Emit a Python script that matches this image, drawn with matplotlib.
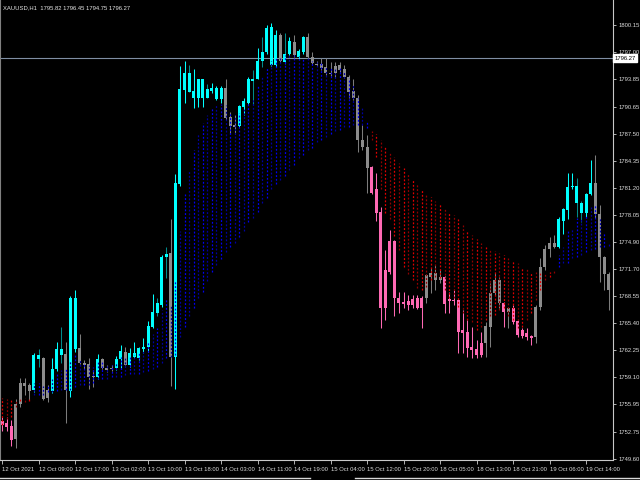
import matplotlib
matplotlib.use("Agg")
import matplotlib.pyplot as plt
from matplotlib.lines import Line2D
import numpy as np

plt.rcParams['font.family'] = ['Liberation Sans', 'DejaVu Sans']
FS = 4.2

header = "XAUUSD,H1  1795.82 1796.45 1794.75 1796.27"
last_price = 1796.27

opens = [1754.0, 1753.8, 1753.4, 1751.9, 1756.0, 1758.1, 1757.5, 1757.6, 1761.7, 1761.4,
         1757.6, 1757.5, 1760.1, 1762.4, 1761.8, 1757.5, 1762.4, 1762.5, 1760.8, 1760.7,
         1759.3, 1759.2, 1761.3, 1760.2, 1760.2, 1760.2, 1761.3, 1762.1, 1760.6, 1761.5,
         1761.4, 1762.4, 1762.6, 1765.0, 1767.8, 1767.5, 1773.5, 1773.6, 1761.5, 1781.6,
         1792.6, 1794.6, 1791.6, 1791.6, 1791.7, 1792.7, 1792.5, 1791.5, 1791.5, 1792.8,
         1789.4, 1788.5, 1788.4, 1790.6, 1791.1, 1793.9, 1793.9, 1797.0, 1797.0, 1795.5,
         1795.5, 1799.0, 1796.8, 1796.8, 1798.2, 1796.4, 1797.0, 1798.7, 1796.4, 1795.6,
         1795.6, 1795.2, 1794.6, 1795.4, 1795.5, 1795.0, 1794.1, 1792.5, 1791.7, 1786.7,
         1785.9, 1783.6, 1781.0, 1778.4, 1767.2, 1771.4, 1775.0, 1768.3, 1767.9, 1768.0,
         1768.2, 1768.3, 1768.4, 1768.4, 1770.8, 1770.5, 1770.5, 1770.8, 1768.2, 1768.1,
         1768.1, 1764.6, 1764.4, 1762.6, 1762.4, 1761.7, 1763.1, 1765.0, 1768.9, 1770.5,
         1767.8, 1766.7, 1767.2, 1765.7, 1764.6, 1764.3, 1763.9, 1763.8, 1767.3, 1772.0,
         1774.0, 1774.3, 1774.3, 1777.3, 1778.6, 1781.3, 1781.4, 1779.4, 1778.3, 1780.5,
         1781.7, 1778.1, 1773.1, 1771.2]

highs = [1754.5, 1754.5, 1754.1, 1756.6, 1759.0, 1759.0, 1758.5, 1761.9, 1762.4, 1761.5,
         1758.2, 1761.4, 1763.2, 1765.0, 1763.2, 1768.6, 1769.3, 1764.1, 1761.1, 1761.4,
         1760.0, 1761.8, 1761.4, 1760.5, 1760.5, 1761.6, 1762.9, 1762.7, 1762.5, 1763.2,
         1762.6, 1763.7, 1765.7, 1768.8, 1768.3, 1773.3, 1774.3, 1777.6, 1782.8, 1795.4,
         1796.0, 1795.5, 1795.0, 1793.9, 1793.9, 1793.3, 1793.4, 1793.1, 1793.0, 1793.9,
         1790.0, 1789.7, 1790.8, 1791.7, 1794.1, 1794.9, 1797.5, 1798.7, 1800.2, 1800.4,
         1799.6, 1799.2, 1799.2, 1798.7, 1799.0, 1797.3, 1798.9, 1799.2, 1797.0, 1796.0,
         1796.3, 1796.3, 1795.8, 1795.8, 1795.8, 1795.5, 1794.3, 1793.8, 1792.0, 1788.5,
         1787.3, 1783.7, 1782.9, 1778.9, 1773.9, 1776.3, 1775.1, 1769.0, 1769.0, 1768.7,
         1768.7, 1768.7, 1768.6, 1771.1, 1771.9, 1772.2, 1771.6, 1770.9, 1769.0, 1769.3,
         1768.2, 1767.0, 1765.8, 1765.0, 1763.4, 1764.4, 1765.6, 1770.1, 1771.3, 1770.8,
         1767.9, 1767.3, 1767.5, 1765.8, 1764.9, 1764.8, 1764.0, 1767.5, 1773.0, 1774.5,
         1775.5, 1775.7, 1777.8, 1778.8, 1782.9, 1782.9, 1782.3, 1779.7, 1780.6, 1784.4,
         1785.0, 1779.2, 1773.2, 1771.4]

lows = [1752.9, 1752.8, 1751.1, 1750.9, 1755.7, 1757.0, 1756.5, 1757.4, 1760.3, 1756.5,
        1756.2, 1757.3, 1759.8, 1760.8, 1753.8, 1756.8, 1762.1, 1760.7, 1760.1, 1757.8,
        1758.0, 1758.9, 1760.1, 1759.7, 1759.9, 1760.0, 1760.2, 1760.5, 1760.3, 1761.4,
        1761.1, 1761.9, 1762.1, 1764.9, 1766.3, 1767.3, 1770.7, 1758.1, 1757.8, 1781.4,
        1791.1, 1792.3, 1790.5, 1790.6, 1790.6, 1791.6, 1792.2, 1791.4, 1791.1, 1789.1,
        1787.4, 1787.4, 1788.3, 1789.7, 1791.0, 1790.8, 1793.8, 1795.2, 1796.8, 1795.4,
        1795.2, 1795.8, 1795.6, 1796.6, 1796.4, 1796.2, 1796.8, 1796.3, 1795.5, 1795.4,
        1794.9, 1794.3, 1794.2, 1794.0, 1794.7, 1794.0, 1791.7, 1791.4, 1785.3, 1785.6,
        1780.6, 1780.5, 1777.3, 1764.9, 1765.8, 1771.1, 1766.2, 1766.6, 1767.2, 1767.0,
        1767.2, 1767.1, 1764.9, 1767.8, 1768.9, 1769.3, 1770.1, 1766.6, 1766.6, 1767.5,
        1761.9, 1761.9, 1761.5, 1761.4, 1761.4, 1761.5, 1761.5, 1762.6, 1768.7, 1767.2,
        1765.0, 1764.8, 1765.3, 1763.8, 1763.7, 1763.4, 1762.9, 1763.1, 1767.0, 1771.6,
        1773.1, 1774.2, 1774.2, 1775.8, 1777.5, 1781.0, 1777.8, 1777.2, 1777.8, 1780.4,
        1777.7, 1770.2, 1769.3, 1767.0]

closes = [1753.5, 1753.3, 1751.8, 1756.0, 1758.5, 1758.5, 1758.2, 1761.7, 1761.3, 1756.6,
          1756.7, 1760.1, 1762.4, 1761.7, 1757.6, 1768.3, 1768.3, 1760.8, 1760.6, 1759.2,
          1759.2, 1761.3, 1760.2, 1760.0, 1760.1, 1761.3, 1762.2, 1760.6, 1761.9, 1761.9,
          1762.5, 1762.6, 1765.1, 1766.7, 1766.6, 1773.1, 1773.1, 1761.5, 1781.7, 1792.7,
          1794.6, 1792.4, 1792.5, 1793.8, 1793.8, 1791.7, 1792.8, 1792.8, 1792.8, 1789.3,
          1788.4, 1788.3, 1790.7, 1791.3, 1793.8, 1793.6, 1795.9, 1795.9, 1799.8, 1799.9,
          1799.0, 1796.0, 1795.8, 1798.3, 1796.6, 1797.1, 1798.7, 1796.4, 1795.7, 1795.5,
          1795.1, 1794.6, 1794.4, 1794.6, 1794.9, 1794.1, 1792.4, 1791.6, 1786.7, 1785.9,
          1783.5, 1780.6, 1778.3, 1767.2, 1771.6, 1775.0, 1768.3, 1767.8, 1767.6, 1767.5,
          1767.5, 1767.2, 1767.2, 1771.0, 1771.3, 1771.3, 1770.8, 1767.6, 1768.0, 1768.0,
          1764.4, 1764.3, 1762.5, 1762.3, 1761.7, 1763.1, 1765.1, 1768.9, 1770.5, 1767.8,
          1766.7, 1767.2, 1765.6, 1764.0, 1763.9, 1763.8, 1763.7, 1767.3, 1772.0, 1774.0,
          1774.7, 1774.8, 1777.5, 1778.7, 1781.3, 1781.4, 1779.4, 1778.3, 1780.5, 1781.7,
          1778.1, 1773.1, 1771.1, 1769.3]

# candle state painted by the indicator: U = up (cyan), D = down (pink), N = neutral (gray)
signal = ("DDDNNNNUUN" "NUUUNUUNNN" "NUNNNUUNUU" "UUUUUUUNUU" "UUUUUUUUUN"
          "NNUUUUUUUU" "UNUUNUUNNN" "NNNNNNNNNN" "NDDDDDDDDD" "DDDNNNNDDD"
          "DDDDDDNNNN" "DNDDDDDNNN" "NNUUUUUUUU" "NNNN")

fast_line = [1753.6, 1754.2, 1754.5, 1755.6, 1756.4, 1756.2, 1756.4, 1758.5, 1758.4, 1758.1,
             1758.2, 1758.9, 1759.5, 1760.0, 1760.2, 1761.1, 1761.7, 1761.1, 1760.7, 1760.6,
             1760.3, 1761.0, 1760.9, 1760.6, 1760.5, 1760.9, 1761.5, 1761.5, 1761.5, 1761.7,
             1762.1, 1762.3, 1763.2, 1764.1, 1764.9, 1767.0, 1768.3, 1767.5, 1770.5, 1776.1,
             1780.5, 1783.3, 1785.6, 1787.6, 1788.7, 1789.7, 1790.5, 1790.8, 1791.0, 1790.8,
             1790.0, 1789.7, 1789.9, 1790.5, 1791.0, 1791.7, 1793.0, 1794.1, 1795.2, 1796.0,
             1796.3, 1796.4, 1796.6, 1796.6, 1796.6, 1796.5, 1796.3, 1796.3, 1796.0, 1795.8,
             1795.7, 1795.2, 1795.1, 1795.1, 1795.1, 1794.7, 1794.0, 1793.2, 1791.6, 1790.6,
             1788.9, 1786.8, 1784.8, 1781.0, 1778.3, 1777.5, 1775.6, 1773.9, 1772.0, 1771.1,
             1770.5, 1769.5, 1769.3, 1769.6, 1770.5, 1770.8, 1770.7, 1769.3, 1768.4, 1768.3,
             1767.3, 1766.6, 1765.8, 1765.5, 1764.6, 1765.0, 1765.8, 1766.2, 1766.4, 1767.0,
             1767.2, 1766.2, 1765.8, 1764.9, 1765.0, 1765.8, 1766.6, 1768.1, 1769.3, 1770.5,
             1770.8, 1771.3, 1773.3, 1774.3, 1776.1, 1776.5, 1777.7, 1777.7, 1778.0, 1778.9,
             1779.2, 1777.8, 1776.0, 1774.6]

slow_line = [1756.7, 1756.6, 1756.5, 1756.5, 1756.6, 1756.7, 1756.7, 1757.0, 1757.1, 1757.1,
             1757.4, 1757.4, 1757.5, 1757.6, 1757.6, 1757.6, 1758.0, 1758.2, 1758.2, 1758.2,
             1758.5, 1758.9, 1758.9, 1758.9, 1759.1, 1759.2, 1759.2, 1759.4, 1759.5, 1759.5,
             1759.5, 1759.7, 1759.8, 1760.1, 1760.3, 1760.8, 1761.4, 1761.5, 1761.7, 1763.8,
             1765.0, 1766.2, 1767.2, 1768.4, 1769.1, 1770.3, 1771.4, 1772.2, 1772.9, 1773.7,
             1774.3, 1774.7, 1775.5, 1776.1, 1777.2, 1777.7, 1778.4, 1779.4, 1780.0, 1781.0,
             1781.6, 1782.1, 1782.6, 1783.3, 1783.8, 1784.6, 1785.0, 1785.6, 1785.8, 1786.5,
             1786.8, 1787.1, 1787.4, 1787.8, 1787.9, 1788.3, 1788.3, 1788.5, 1788.5, 1788.5,
             1788.2, 1787.8, 1787.5, 1786.7, 1785.9, 1785.4, 1784.8, 1784.1, 1783.5, 1782.8,
             1782.2, 1781.7, 1781.1, 1780.5, 1780.1, 1779.7, 1779.4, 1778.8, 1778.4, 1778.0,
             1777.5, 1776.9, 1776.3, 1775.7, 1775.2, 1774.7, 1774.3, 1773.9, 1773.8, 1773.6,
             1773.4, 1773.0, 1772.7, 1772.4, 1772.0, 1771.9, 1771.4, 1771.4, 1771.3, 1771.2,
             1771.4, 1771.6, 1772.0, 1772.4, 1772.4, 1773.0, 1773.1, 1773.4, 1773.7, 1773.9,
             1774.1, 1774.3, 1774.3, 1774.4]

price_ticks = [1800.15, 1797.00, 1793.85, 1790.65, 1787.50, 1784.35, 1781.20, 1778.05,
               1774.90, 1771.70, 1768.55, 1765.40, 1762.25, 1759.10, 1755.95, 1752.75, 1749.60]

time_labels = ["12 Oct 2021", "12 Oct 09:00", "12 Oct 17:00", "13 Oct 02:00", "13 Oct 10:00",
               "13 Oct 18:00", "14 Oct 03:00", "14 Oct 11:00", "14 Oct 19:00", "15 Oct 04:00",
               "15 Oct 12:00", "15 Oct 20:00", "18 Oct 05:00", "18 Oct 13:00", "18 Oct 21:00",
               "19 Oct 06:00", "19 Oct 14:00"]

o = np.array(opens); h = np.array(highs); l = np.array(lows); c = np.array(closes)
fast = np.array(fast_line); slow = np.array(slow_line)
n = len(c)
x = np.arange(n)

fig = plt.figure(figsize=(6.4, 4.8), dpi=100, facecolor='black')
ax = fig.add_axes([0.0, 20 / 480, 612.5 / 640, 460 / 480])
ax.set_facecolor('black')

body_cols, wick_cols = [], []
for i in range(n):
    s = signal[i]
    if s == 'U':
        body_cols.append('#00ffff')
        wick_cols.append('#00ffff' if c[i] >= o[i] else '#008b8b')
    elif s == 'D':
        body_cols.append('#ff69b4')
        wick_cols.append('#ff69b4')
    else:
        body_cols.append('#8c8c8c')
        wick_cols.append('#7c7c7c')

ax.vlines(x, l, h, colors=wick_cols, linewidth=0.75, zorder=2)
bottoms = np.minimum(o, c)
heights = np.maximum(np.abs(c - o), 0.12)
ax.bar(x, heights, bottom=bottoms, width=0.66, color=body_cols, linewidth=0, zorder=3)

# dotted cloud between fast and slow lines
dot_cols = []
for i in range(n):
    if fast[i] >= slow[i]:
        dot_cols.append('#0000f0' if i % 2 == 0 else '#0000a0')
    else:
        dot_cols.append('#e00000' if i % 2 == 0 else '#900000')
ax.vlines(x, np.minimum(fast, slow), np.maximum(fast, slow), colors=dot_cols,
          linewidth=0.9, linestyles=[(0, (1.5, 1.5))], zorder=4)

# current price line and its label
ax.axhline(last_price, color='#7f8ea3', linewidth=0.8, zorder=1)
ax.annotate(f"{last_price:.2f}", xy=(1.0, last_price), xycoords=('axes fraction', 'data'),
            xytext=(1.5, 0), textcoords='offset points', ha='left', va='center',
            fontsize=FS, color='black', annotation_clip=False, zorder=10,
            bbox=dict(boxstyle='square,pad=0.25', fc='white', ec='white'))

ax.set_xlim(-0.44, 133.8)
ax.set_ylim(1749.48, 1803.06)

ax.yaxis.tick_right()
ax.set_yticks(price_ticks)
ax.set_yticklabels([f"{v:.2f}" for v in price_ticks])
ax.tick_params(axis='y', colors='#d0d0d0', labelcolor='#dcdcdc', labelsize=FS,
               length=2.5, width=0.6, pad=1.5, direction='out')

ax.set_xticks(np.arange(0, n, 8)[:len(time_labels)])
ax.set_xticklabels(time_labels, ha='left')
ax.tick_params(axis='x', colors='#d0d0d0', labelcolor='#dcdcdc', labelsize=FS,
               length=3, width=0.6, pad=1.8, direction='out')

ax.spines['top'].set_visible(False)
ax.spines['left'].set_color('#808080')
ax.spines['right'].set_color('#c8c8c8')
ax.spines['bottom'].set_color('#c8c8c8')
for side in ['left', 'right', 'bottom']:
    ax.spines[side].set_linewidth(0.8)

fig.text(3 / 640, 1 - 8 / 480, header, color='#e6e6e6', fontsize=FS, ha='left', va='center')

fig.add_artist(Line2D([0, 310 / 640], [2 / 480, 2 / 480], color='#d8d8d8', linewidth=1.0))
fig.add_artist(Line2D([355 / 640, 1.0], [2 / 480, 2 / 480], color='#d8d8d8', linewidth=1.0))

fig.savefig('out.png', dpi=100, facecolor='black')
